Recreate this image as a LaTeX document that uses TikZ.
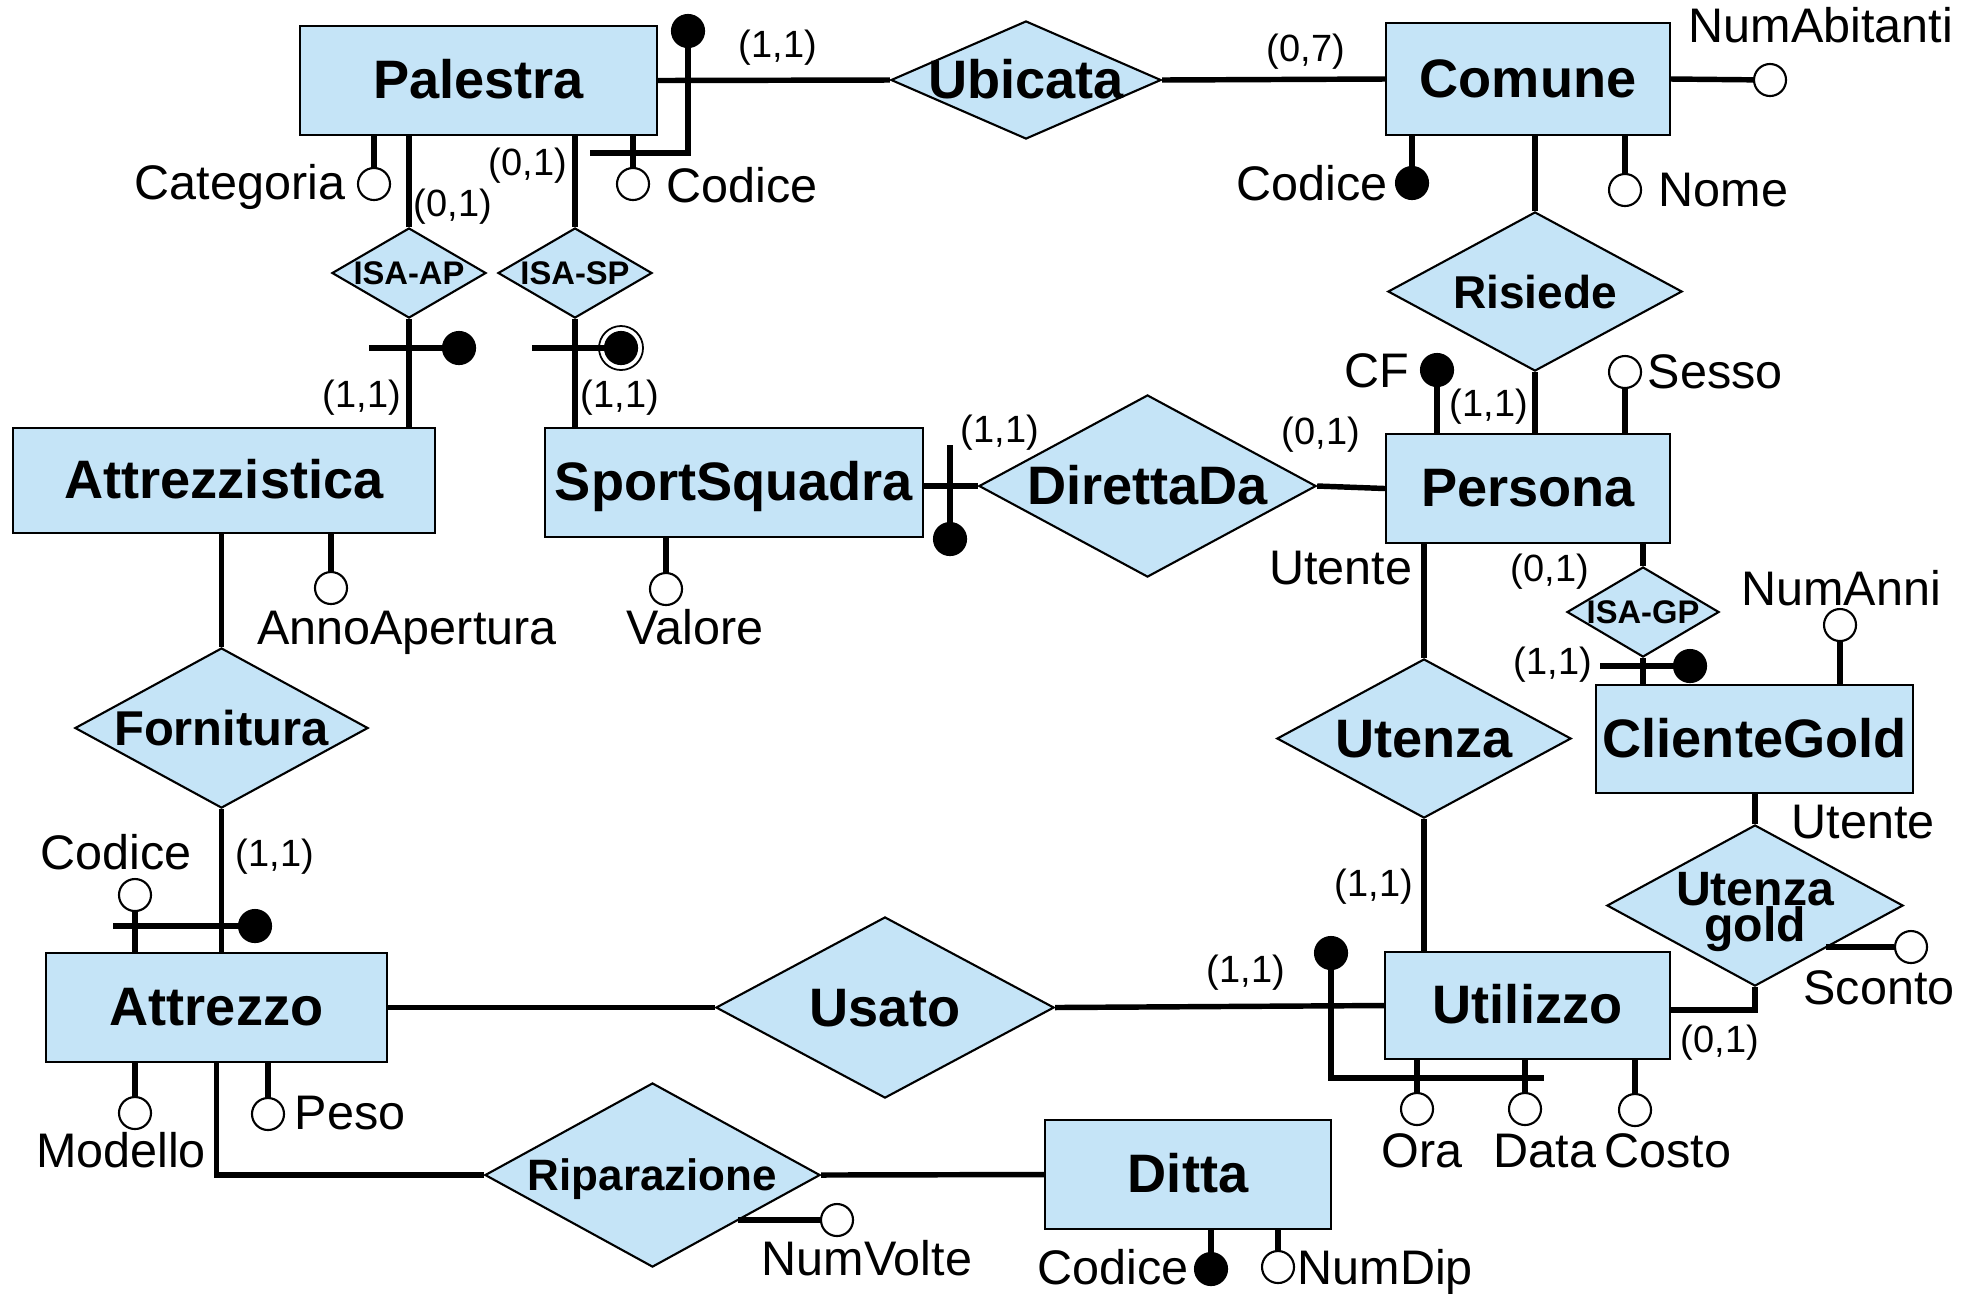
\documentclass[tikz,border=0pt]{standalone}
\usepackage{fontspec}
\setmainfont{Liberation Sans}
\usetikzlibrary{shapes.geometric}
\definecolor{erblue}{RGB}{197,228,247}
\begin{document}
\begin{tikzpicture}[x=0.01cm,y=-0.01cm,
  ent/.style={draw, line width=0.6pt, fill=erblue, inner sep=0,
    font=\fontsize{15.4pt}{16pt}\selectfont\bfseries, text height=10.3pt, text depth=0pt},
  rel/.style={diamond, draw, line width=0.6pt, fill=erblue, inner sep=0},
  rtA/.style={inner sep=0, font=\fontsize{15.4pt}{16pt}\selectfont\bfseries, text height=10.6pt, text depth=0pt},
  rtS/.style={inner sep=0, font=\fontsize{9.3pt}{10pt}\selectfont\bfseries, text height=6.7pt, text depth=0pt},
  lnk/.style={line width=1.55pt},
  att/.style={circle, draw, line width=0.6pt, fill=white, minimum size=0.32cm, inner sep=0},
  key/.style={circle, draw, line width=0.6pt, fill=black, minimum size=0.32cm, inner sep=0},
  ring/.style={circle, draw, line width=0.5pt, fill=white, minimum size=0.44cm, inner sep=0},
  atxt/.style={inner sep=0, font=\fontsize{13.8pt}{14pt}\selectfont, text height=9.9pt, text depth=0pt},
  card/.style={inner sep=0, font=\fontsize{10.8pt}{11pt}\selectfont, text height=7.9pt, text depth=2.3pt},
]
\useasboundingbox (0,0) rectangle (1977,1293);

% ---------- entities ----------
\node[ent, minimum width=3.57cm, minimum height=1.09cm] (pal) at (478.5,80.5) {Palestra};
\node[ent, minimum width=2.84cm, minimum height=1.12cm] (com) at (1528,79) {Comune};
\node[ent, minimum width=4.22cm, minimum height=1.05cm] (atz) at (224,480.5) {Attrezzistica};
\node[ent, minimum width=3.78cm, minimum height=1.09cm] (spq) at (734,482.5) {SportSquadra};
\node[ent, minimum width=2.84cm, minimum height=1.09cm] (per) at (1528,488.5) {Persona};
\node[ent, minimum width=3.17cm, minimum height=1.08cm] (cgo) at (1754.5,739) {ClienteGold};
\node[ent, minimum width=3.41cm, minimum height=1.09cm] (atr) at (216.5,1007.5) {Attrezzo};
\node[ent, minimum width=2.85cm, minimum height=1.07cm] (uti) at (1527.5,1005.5) {Utilizzo};
\node[ent, minimum width=2.86cm, minimum height=1.09cm] (dit) at (1188,1174.5) {Ditta};

% ---------- relationships ----------
\node[rel, minimum width=2.70cm, minimum height=1.18cm] (ubi) at (1026,80) {};
\node[rtA] (ubit) at (ubi) {Ubicata};
\node[rel, minimum width=2.94cm, minimum height=1.59cm] (ris) at (1535,291.5) {};
\node[inner sep=0, font=\fontsize{13.1pt}{14pt}\selectfont\bfseries, text height=9.4pt, text depth=0pt] (rist) at (ris) {Risiede};
\node[rel, minimum width=3.37cm, minimum height=1.82cm] (dir) at (1147.5,486) {};
\node[rtA] (dirt) at (dir) {DirettaDa};
\node[rel, minimum width=2.94cm, minimum height=1.59cm] (uten) at (1424,738.5) {};
\node[rtA] (utent) at (uten) {Utenza};
\node[rel, minimum width=1.52cm, minimum height=0.90cm] (isagp) at (1643,612) {};
\node[rtS] (isagpt) at (isagp) {ISA-GP};
\node[rel, minimum width=2.96cm, minimum height=1.61cm] (ugold) at (1755,905.5) {};
\node[inner sep=0, align=center, font=\fontsize{13.7pt}{10.4pt}\selectfont\bfseries] (ugoldt) at (1755,912) {\lineskiplimit=-\maxdimen Utenza\\gold};
\node[rel, minimum width=2.93cm, minimum height=1.60cm] (forn) at (221.5,728) {};
\node[inner sep=0, font=\fontsize{13.9pt}{14pt}\selectfont\bfseries, text height=10pt, text depth=0pt] (fornt) at (forn) {Fornitura};
\node[rel, minimum width=3.38cm, minimum height=1.81cm] (usa) at (885,1007.5) {};
\node[rtA] (usat) at (usa) {Usato};
\node[rel, minimum width=3.35cm, minimum height=1.84cm] (rip) at (652.5,1175) {};
\node[inner sep=0, font=\fontsize{12.5pt}{13pt}\selectfont\bfseries, text height=8.7pt, text depth=0pt] (ript) at (rip) {Riparazione};
\node[rel, minimum width=1.54cm, minimum height=0.90cm] (isaap) at (409,273) {};
\node[rtS] (isaapt) at (isaap) {ISA-AP};
\node[rel, minimum width=1.54cm, minimum height=0.90cm] (isasp) at (575,273) {};
\node[rtS] (isaspt) at (isasp) {ISA-SP};

% ---------- connectors ----------
\draw[lnk] (pal.east) -- (ubi.west);
\draw[lnk] (ubi.east) -- (com.west);
\draw[lnk] (ris.north) -- (ris.north |- com.south);
\draw[lnk] (ris.south) -- (ris.south |- per.north);
\draw[lnk] (dir.west) -- (dir.west -| spq.east);
\draw[lnk] (dir.east) -- (per.west);
\draw[lnk] (uten.north) -- (uten.north |- per.south);
\draw[lnk] (uten.south) -- (uten.south |- uti.north);
\draw[lnk] (isagp.north) -- (isagp.north |- per.south);
\draw[lnk] (isagp.south) -- (isagp.south |- cgo.north);
\draw[lnk] (ugold.north) -- (ugold.north |- cgo.south);
\draw[lnk] (ugold.south) |- ([yshift=-0.045cm]uti.east);
\draw[lnk] (isaap.north) -- (isaap.north |- pal.south);
\draw[lnk] (isaap.south) -- (isaap.south |- atz.north);
\draw[lnk] (isasp.north) -- (isasp.north |- pal.south);
\draw[lnk] (isasp.south) -- (isasp.south |- spq.north);
\draw[lnk] (forn.north) -- (forn.north |- atz.south);
\draw[lnk] (forn.south) -- (forn.south |- atr.north);
\draw[lnk] (atr.east) -- (usa.west);
\draw[lnk] (usa.east) -- (uti.west);
\draw[lnk] (atr.south) |- (rip.west);
\draw[lnk] (rip.east) -- (dit.west);

% ---------- cardinalities ----------
\node[card] (k1) at (778,48) {(1,1)};
\node[card] (k2) at (1306,52) {(0,7)};
\node[card] (k3) at (453,207) {(0,1)};
\node[card] (k4) at (528,166) {(0,1)};
\node[card] (k5) at (362,398) {(1,1)};
\node[card] (k6) at (620,398) {(1,1)};
\node[card] (k7) at (1000,433) {(1,1)};
\node[card] (k8) at (1321,435) {(0,1)};
\node[card] (k9) at (1489,407) {(1,1)};
\node[card] (k10) at (1550,572) {(0,1)};
\node[card] (k11) at (1553,665) {(1,1)};
\node[card] (k12) at (1374,887) {(1,1)};
\node[card] (k13) at (1246,973) {(1,1)};
\node[card] (k14) at (1720,1043) {(0,1)};
\node[card] (k15) at (275,857) {(1,1)};

% ---------- Palestra attributes ----------
\node[att] (pcat) at (374,184) {};
\draw[lnk] (pcat) -- (pcat |- pal.south);
\node[atxt, anchor=east] (pcatt) at (346,182) {Categoria};
\node[att] (pcod) at (633,184) {};
\draw[lnk] (pcod) -- (pcod |- pal.south);
\node[atxt, anchor=west] (pcodt) at (666,185) {Codice};
\node[key] (pkey) at (688,31) {};
\coordinate (pk1) at (688,153);
\coordinate (pk2) at (590,153);
\draw[lnk] (pkey) -- (pk1) -- (pk2);

% ---------- Comune attributes ----------
\node[att] (cnab) at (1770,80) {};
\draw[lnk] (com.east) -- (cnab);
\node[atxt, anchor=west] (cnabt) at (1688,25) {NumAbitanti};
\node[key] (ccod) at (1412,183) {};
\draw[lnk] (ccod) -- (ccod |- com.south);
\node[atxt, anchor=east] (ccodt) at (1388,183) {Codice};
\node[att] (cnom) at (1625,190) {};
\draw[lnk] (cnom) -- (cnom |- com.south);
\node[atxt, anchor=west] (cnomt) at (1658,189) {Nome};

% ---------- Persona attributes ----------
\node[key] (pcf) at (1437,370) {};
\draw[lnk] (pcf) -- (pcf |- per.north);
\node[atxt, anchor=east] (pcft) at (1410,370) {CF};
\node[att] (pses) at (1625,372) {};
\draw[lnk] (pses) -- (pses |- per.north);
\node[atxt, anchor=west] (psest) at (1647,371) {Sesso};
\node[atxt, anchor=east] (pute) at (1413,567) {Utente};

% ---------- ClienteGold / ISA-GP ----------
\node[att] (gnum) at (1840,625) {};
\draw[lnk] (gnum) -- (gnum |- cgo.north);
\node[atxt] (gnumt) at (1841,588) {NumAnni};
\node[key] (gkey) at (1690,666) {};
\coordinate (gk1) at (1600,666);
\draw[lnk] (gk1) -- (gkey);

% ---------- Utenza gold ----------
\coordinate (usc0) at (1826,947);
\node[att] (usc) at (1911,947) {};
\draw[lnk] (usc0) -- (usc);
\node[atxt] (usct) at (1879,987) {Sconto};
\node[atxt] (gute) at (1863,821) {Utente};

% ---------- Utilizzo ----------
\node[att] (uora) at (1417,1109) {};
\draw[lnk] (uora) -- (uora |- uti.south);
\node[att] (udat) at (1525,1109) {};
\draw[lnk] (udat) -- (udat |- uti.south);
\node[att] (ucos) at (1635,1110) {};
\draw[lnk] (ucos) -- (ucos |- uti.south);
\node[atxt] (uorat) at (1422,1150) {Ora};
\node[atxt] (udatt) at (1545,1150) {Data};
\node[atxt] (ucost) at (1668,1150) {Costo};
\node[key] (ukey) at (1331,953) {};
\coordinate (uk1) at (1331,1078);
\coordinate (uk2) at (1544,1078);
\draw[lnk] (ukey) -- (uk1) -- (uk2);

% ---------- SportSquadra / DirettaDa ----------
\node[att] (sval) at (666,589) {};
\draw[lnk] (sval) -- (sval |- spq.south);
\node[atxt] (svalt) at (695,627) {Valore};
\node[key] (dkey) at (950,539) {};
\coordinate (dk1) at (950,445);
\draw[lnk] (dk1) -- (dkey);

% ---------- Attrezzistica ----------
\node[att] (aann) at (331,588) {};
\draw[lnk] (aann) -- (aann |- atz.south);
\node[atxt] (aannt) at (407,627) {AnnoApertura};

% ---------- ISA-AP / ISA-SP identifiers ----------
\node[key] (akey) at (459,348) {};
\coordinate (ak1) at (369,348);
\draw[lnk] (ak1) -- (akey);
\node[ring] (sring) at (621,348) {};
\node[key] (skey) at (621,348) {};
\coordinate (sk1) at (532,348);
\draw[lnk] (sk1) -- (skey);

% ---------- Attrezzo ----------
\node[att] (acod) at (135,895) {};
\draw[lnk] (acod) -- (acod |- atr.north);
\node[atxt] (acodt) at (116,852) {Codice};
\node[key] (akey2) at (255,926) {};
\coordinate (ak2) at (113,926);
\draw[lnk] (ak2) -- (akey2);
\node[att] (amod) at (135,1113) {};
\draw[lnk] (amod) -- (amod |- atr.south);
\node[atxt] (amodt) at (121,1150) {Modello};
\node[att] (apes) at (268,1114) {};
\draw[lnk] (apes) -- (apes |- atr.south);
\node[atxt, anchor=west] (apest) at (294,1112) {Peso};

% ---------- Riparazione ----------
\coordinate (rnv0) at (738,1220);
\node[att] (rnv) at (837,1220) {};
\draw[lnk] (rnv0) -- (rnv);
\node[atxt] (rnvt) at (867,1258) {NumVolte};

% ---------- Ditta ----------
\node[key] (dcod) at (1211,1269) {};
\draw[lnk] (dcod) -- (dcod |- dit.south);
\node[atxt, anchor=east] (dcodt) at (1189,1267) {Codice};
\node[att] (dnd) at (1278,1267) {};
\draw[lnk] (dnd) -- (dnd |- dit.south);
\node[atxt, anchor=west] (dndt) at (1297,1267) {NumDip};
\end{tikzpicture}
\end{document}
